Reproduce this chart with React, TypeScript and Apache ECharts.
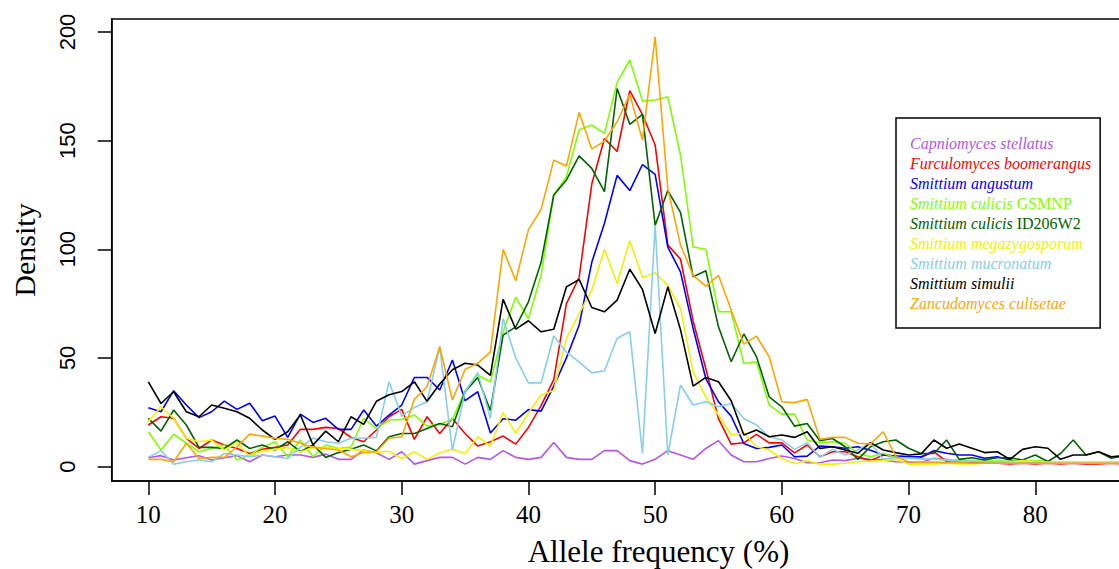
import React, { useEffect, useRef } from "react";
import * as echarts from "echarts";

const alleleFreq = [
  10, 11, 12, 13, 14, 15, 16, 17, 18, 19,
  20, 21, 22, 23, 24, 25, 26, 27, 28, 29,
  30, 31, 32, 33, 34, 35, 36, 37, 38, 39,
  40, 41, 42, 43, 44, 45, 46, 47, 48, 49,
  50, 51, 52, 53, 54, 55, 56, 57, 58, 59,
  60, 61, 62, 63, 64, 65, 66, 67, 68, 69,
  70, 71, 72, 73, 74, 75, 76, 77, 78, 79,
  80, 81, 82, 83, 84, 85, 86, 87, 88, 89,
];

const capniomycesStellatus = [
  4.0, 5.0, 3.0, 4.0, 5.0, 3.0, 4.0, 5.0, 2.2, 5.3,
  4.5, 5.3, 5.3, 4.2, 5.7, 3.3, 3.3, 7.6, 6.3, 3.3,
  6.8, 1.1, 2.7, 4.2, 4.2, 1.1, 4.2, 3.3, 7.3, 4.2,
  3.3, 4.2, 11.1, 4.2, 3.3, 3.3, 7.3, 7.3, 2.7, 1.1,
  3.3, 7.3, 5.3, 3.3, 8.3, 11.9, 5.3, 2.2, 2.2, 3.7,
  4.8, 3.7, 1.7, 1.7, 3.0, 2.7, 3.8, 3.3, 3.0, 2.2,
  2.0, 1.8, 3.8, 3.3, 2.0, 1.8, 1.5, 1.8, 1.5, 1.5,
  1.5, 1.8, 1.5, 1.5, 1.3, 1.5, 1.8, 1.5, 1.5, 1.5,
];

const furculomycesBoomerangus = [
  19.1, 22.9, 22.2, 13.0, 8.3, 12.2, 9.9, 8.3, 6.0, 7.9,
  8.8, 9.9, 17.1, 17.1, 18.0, 17.5, 13.4, 11.4, 16.8, 22.9,
  26.3, 12.5, 22.9, 15.2, 22.1, 15.2, 9.4, 11.4, 14.0, 10.3,
  18.0, 28.0, 40.0, 75.0, 87.0, 130.0, 151.0, 145.0, 173.0, 162.0,
  148.0, 102.0, 95.5, 67.0, 45.0, 22.0, 10.3, 10.9, 14.8, 10.9,
  10.9, 6.3, 9.9, 4.5, 6.8, 6.8, 4.5, 2.7, 5.3, 4.8,
  4.5, 4.2, 6.8, 2.2, 1.5, 1.5, 1.8, 1.5, 1.2, 1.5,
  1.2, 1.5, 1.2, 1.5, 1.2, 1.2, 1.5, 1.2, 1.2, 1.2,
];

const smittiumAngustum = [
  27.0, 25.2, 34.9, 28.3, 22.5, 25.2, 30.1, 26.3, 29.1, 21.1,
  23.2, 13.4, 24.1, 20.3, 22.2, 17.1, 17.1, 26.0, 18.6, 23.7,
  28.3, 41.0, 41.0, 35.2, 49.0, 30.3, 34.4, 15.4, 22.0, 21.3,
  26.2, 25.5, 37.0, 50.0, 65.0, 94.0, 112.0, 134.0, 127.0, 139.0,
  134.5, 101.0, 89.6, 63.5, 40.5, 29.8, 23.2, 10.6, 8.3, 8.8,
  9.9, 4.5, 4.8, 9.4, 9.1, 8.4, 9.1, 7.5, 5.3, 4.8,
  4.5, 4.5, 7.3, 6.1, 5.3, 5.3, 3.8, 4.5, 3.0, 1.8,
  1.5, 1.5, 1.5, 1.5, 1.5, 1.5, 1.5, 1.5, 1.5, 1.5,
];

const smittiumCulicisGSMNP = [
  16.0, 7.6, 14.9, 10.7, 6.8, 8.3, 9.9, 3.0, 5.3, 8.8,
  11.4, 4.5, 12.2, 4.5, 9.9, 8.3, 9.0, 22.2, 17.5, 21.4,
  21.7, 23.7, 18.6, 19.5, 21.7, 34.9, 42.1, 39.0, 62.0, 78.0,
  68.0, 88.0, 125.0, 133.4, 155.0, 157.2, 153.3, 176.8, 187.1, 168.2,
  168.7, 170.2, 143.4, 101.0, 100.0, 71.2, 71.2, 47.4, 48.2, 28.3,
  24.1, 24.1, 12.2, 10.9, 11.4, 10.7, 6.1, 4.5, 6.1, 4.0,
  4.0, 3.5, 3.5, 3.0, 3.0, 2.5, 2.5, 2.5, 2.5, 2.5,
  2.7, 2.3, 2.0, 2.0, 2.0, 2.0, 2.0, 2.0, 2.0, 2.0,
];

const smittiumCulicisID206W2 = [
  22.2, 16.3, 26.0, 19.1, 8.8, 8.8, 8.3, 12.2, 8.3, 9.9,
  7.6, 11.4, 6.8, 9.9, 4.2, 6.4, 7.9, 9.9, 7.2, 13.7,
  15.2, 15.2, 17.5, 19.8, 18.3, 34.4, 41.0, 25.7, 60.5, 64.3,
  75.8, 94.0, 125.0, 131.9, 143.0, 137.2, 126.5, 174.0, 157.5, 162.1,
  111.0, 127.0, 117.0, 87.3, 90.1, 64.3, 48.2, 61.0, 50.5, 32.1,
  27.5, 18.6, 19.8, 11.9, 12.9, 9.1, 3.3, 9.1, 11.4, 12.2,
  8.4, 6.0, 6.0, 12.2, 3.3, 4.0, 3.0, 4.0, 4.0, 3.0,
  5.3, 2.3, 6.0, 12.2, 5.3, 6.8, 3.8, 5.0, 4.0, 4.0,
];

const smittiumMegazygosporum = [
  20.6, 27.5, 22.2, 13.0, 11.4, 12.2, 7.6, 11.0, 4.5, 7.3,
  7.9, 8.8, 6.7, 8.8, 8.8, 8.3, 7.9, 7.3, 6.5, 7.0,
  3.7, 6.8, 3.3, 6.3, 7.9, 6.0, 13.7, 9.4, 24.8, 15.4,
  24.6, 32.9, 35.0, 59.0, 70.4, 81.2, 100.0, 84.2, 103.9, 87.0,
  89.2, 83.5, 72.7, 43.6, 32.1, 23.7, 14.5, 15.5, 9.1, 7.6,
  3.7, 1.4, 2.7, 1.1, 1.1, 1.5, 2.2, 2.5, 2.7, 3.3,
  1.1, 1.2, 1.2, 1.5, 1.2, 1.2, 1.5, 1.5, 2.0, 2.7,
  2.2, 2.0, 2.0, 2.0, 2.0, 2.0, 2.2, 2.0, 2.0, 2.0,
];

const smittiumMucronatum = [
  4.2, 7.3, 1.1, 2.2, 3.0, 2.2, 6.0, 5.3, 4.5, 5.3,
  4.5, 3.7, 8.8, 13.0, 11.4, 10.7, 13.0, 13.0, 13.4, 39.0,
  23.2, 27.2, 29.8, 55.1, 7.6, 34.4, 43.2, 22.1, 68.0, 50.0,
  38.5, 38.5, 60.2, 52.5, 48.2, 43.1, 44.1, 59.0, 62.0, 6.0,
  111.0, 5.3, 37.5, 28.3, 29.8, 27.5, 29.0, 22.1, 19.1, 13.7,
  12.2, 7.9, 10.9, 4.2, 7.9, 5.3, 7.6, 11.0, 3.3, 4.2,
  3.8, 3.5, 3.5, 3.0, 2.5, 2.5, 2.2, 2.0, 1.8, 1.8,
  1.5, 1.5, 1.5, 1.5, 1.5, 1.5, 1.5, 1.5, 1.5, 1.5,
];

const smittiumSimulii = [
  39.0, 29.0, 34.4, 25.2, 22.9, 28.3, 26.8, 25.2, 22.2, 16.8,
  12.5, 16.0, 23.7, 9.9, 16.3, 11.4, 22.9, 19.4, 30.0, 33.0,
  34.5, 39.0, 30.0, 38.0, 44.5, 47.5, 46.7, 42.0, 77.0, 63.2,
  67.1, 62.0, 63.2, 82.7, 86.1, 73.2, 71.2, 76.6, 90.8, 81.5,
  61.2, 82.7, 63.0, 37.0, 41.0, 39.0, 30.3, 14.5, 16.8, 13.7,
  14.5, 13.4, 16.0, 8.3, 9.1, 7.6, 6.1, 11.0, 7.6, 6.4,
  5.3, 5.8, 12.2, 8.4, 10.4, 8.4, 6.4, 6.8, 3.3, 7.9,
  9.1, 8.4, 3.3, 5.3, 5.3, 6.8, 4.5, 5.0, 4.0, 4.0,
];

const zancudomycesCulisetae = [
  3.3, 3.3, 2.2, 10.7, 3.7, 4.2, 4.2, 9.1, 14.9, 14.0,
  13.0, 12.5, 10.7, 8.8, 8.3, 7.6, 4.5, 6.4, 6.8, 13.0,
  13.7, 30.9, 36.7, 55.1, 30.6, 44.7, 47.5, 52.8, 100.0, 85.5,
  109.0, 118.3, 141.0, 138.3, 163.0, 146.1, 149.8, 158.7, 171.3, 150.3,
  197.8, 128.0, 102.0, 88.0, 83.0, 88.0, 72.0, 56.3, 60.0, 50.5,
  29.8, 29.4, 30.9, 12.5, 13.4, 13.4, 10.7, 10.4, 16.0, 4.5,
  2.2, 2.0, 2.0, 1.8, 1.8, 1.5, 1.5, 1.5, 1.5, 1.5,
  1.5, 1.5, 1.5, 1.5, 1.5, 1.5, 1.5, 1.5, 1.5, 1.5,
];

const legendItalic = [
  "Capniomyces stellatus",
  "Furculomyces boomerangus",
  "Smittium angustum",
  "Smittium culicis",
  "Smittium culicis",
  "Smittium megazygosporum",
  "Smittium mucronatum",
  "Smittium simulii",
  "Zancudomyces culisetae",
];
const legendPlain = ["", "", "", "GSMNP", "ID206W2", "", "", "", ""];
const seriesColors = [
  "#B455EE",
  "#FF0000",
  "#0000FF",
  "#7FFF00",
  "#006400",
  "#F2F200",
  "#87CEEB",
  "#000000",
  "#FFA500",
];
const seriesValues = [
  capniomycesStellatus,
  furculomycesBoomerangus,
  smittiumAngustum,
  smittiumCulicisGSMNP,
  smittiumCulicisID206W2,
  smittiumMegazygosporum,
  smittiumMucronatum,
  smittiumSimulii,
  zancudomycesCulisetae,
];

const xTicks = [10, 20, 30, 40, 50, 60, 70, 80];
const yTicks = [0, 50, 100, 150, 200];

const SERIF = "'Liberation Serif', 'Times New Roman', serif";
const SANS = "'Liberation Sans', Arial, sans-serif";

// The plot frame runs past the right edge of the visible page, as in the reference.
const CHART_W = 1213;
const CHART_H = 569;

const fullName = (i: number) =>
  legendPlain[i] ? legendItalic[i] + " " + legendPlain[i] : legendItalic[i];

export default function App() {
  const ref = useRef<HTMLDivElement>(null);

  useEffect(() => {
    if (!ref.current) return;
    const prevOverflow = document.body.style.overflow;
    document.body.style.overflow = "hidden";
    const chart = echarts.init(ref.current, null, { renderer: "svg" });
    const names = legendItalic.map((_, i) => fullName(i));

    const option: any = {
      animation: false,
      backgroundColor: "#ffffff",
      grid: {
        left: 111.7,
        right: 7.7,
        top: 19,
        bottom: 88,
        outerBoundsMode: "none",
        containLabel: false,
        show: true,
        borderColor: "#000",
        borderWidth: 1.5,
        backgroundColor: "transparent",
      },
      xAxis: {
        type: "value",
        min: 7.111,
        max: 93.42,
        name: "Allele frequency (%)",
        nameLocation: "middle",
        nameGap: 55,
        nameTextStyle: { fontFamily: SERIF, fontSize: 31, color: "#000" },
        axisLine: { show: true, onZero: false, lineStyle: { color: "#000", width: 1.5 } },
        axisTick: {
          show: true,
          length: 14,
          customValues: xTicks,
          lineStyle: { color: "#000", width: 1.5 },
        },
        axisLabel: {
          customValues: xTicks,
          margin: 21,
          fontFamily: SERIF,
          fontSize: 25,
          color: "#000",
        },
        splitLine: { show: false },
      },
      yAxis: {
        type: "value",
        min: -6.67,
        max: 205.98,
        name: "Density",
        nameLocation: "middle",
        nameGap: 72,
        nameRotate: 90,
        nameTextStyle: { fontFamily: SERIF, fontSize: 30, color: "#000" },
        axisLine: { show: true, onZero: false, lineStyle: { color: "#000", width: 1.5 } },
        axisTick: {
          show: true,
          length: 14,
          customValues: yTicks,
          lineStyle: { color: "#000", width: 1.5 },
        },
        axisLabel: {
          customValues: yTicks,
          rotate: 90,
          margin: 33,
          fontFamily: SANS,
          fontSize: 22,
          color: "#000",
        },
        splitLine: { show: false },
      },
      legend: {
        orient: "vertical",
        left: 896,
        top: 118,
        padding: [15, 9, 15, 9],
        itemGap: 0,
        itemWidth: 0,
        itemHeight: 20,
        icon: "none",
        selectedMode: false,
        backgroundColor: "#fff",
        borderColor: "#000",
        borderWidth: 1.5,
        borderRadius: 0,
        data: names.map((n, i) => ({
          name: n,
          icon: "none",
          textStyle: { color: seriesColors[i] },
        })),
        formatter: (name: string) => {
          const i = names.indexOf(name);
          return legendPlain[i]
            ? `{i|${legendItalic[i]}} {n|${legendPlain[i]}}`
            : `{i|${legendItalic[i]}}`;
        },
        textStyle: {
          fontFamily: SERIF,
          fontSize: 16,
          lineHeight: 20,
          rich: {
            i: { fontFamily: SERIF, fontSize: 16, fontStyle: "italic", lineHeight: 20 },
            n: { fontFamily: SERIF, fontSize: 16, fontStyle: "normal", lineHeight: 20 },
          },
        },
      },
      series: seriesValues.map((vals, i) => ({
        type: "line",
        name: names[i],
        data: alleleFreq.map((x, j) => [x, vals[j]]),
        showSymbol: false,
        symbol: "none",
        clip: true,
        lineStyle: { color: seriesColors[i], width: 1.6 },
        itemStyle: { color: seriesColors[i] },
        emphasis: { disabled: true },
      })),
    };

    chart.setOption(option);
    return () => {
      chart.dispose();
      document.body.style.overflow = prevOverflow;
    };
  }, []);

  return (
    <div
      ref={ref}
      style={{
        position: "fixed",
        left: 0,
        top: 0,
        width: CHART_W,
        height: CHART_H,
        background: "#fff",
      }}
    />
  );
}
